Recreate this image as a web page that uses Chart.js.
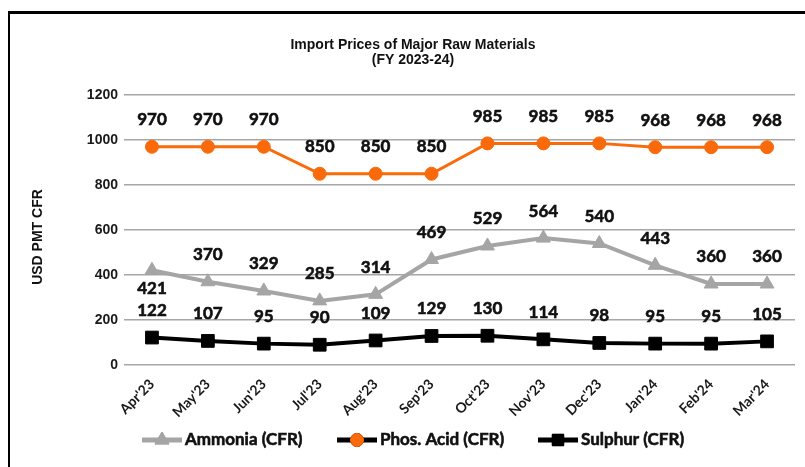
<!DOCTYPE html>
<html>
<head>
<meta charset="utf-8">
<script src="https://cdn.jsdelivr.net/npm/chart.js@4.4.1/dist/chart.umd.min.js"></script>
<style>
  html, body { margin: 0; padding: 0; background: #fff; }
  #chart { display: block; }
</style>
</head>
<body>
<canvas id="chart" width="805" height="467"></canvas>
<script>
// data
const months = ["Apr'23", "May'23", "Jun'23", "Jul'23", "Aug'23", "Sep'23",
                "Oct'23", "Nov'23", "Dec'23", "Jan'24", "Feb'24", "Mar'24"];
const ammonia = [421, 370, 329, 285, 314, 469, 529, 564, 540, 443, 360, 360];
const phosAcid = [970, 970, 970, 850, 850, 850, 985, 985, 985, 968, 968, 968];
const sulphur = [122, 107, 95, 90, 109, 129, 130, 114, 98, 95, 95, 105];
const yTicks = [0, 200, 400, 600, 800, 1000, 1200];

const ORANGE = '#fa6a0a';
const GREY = '#a5a5a5';

// heavier text: fill plus a thin stroke of the same colour
function boldText(ctx, txt, x, y) {
    ctx.fillText(txt, x, y);
    ctx.strokeText(txt, x, y);
}

// frame, titles, value labels and legend
let decor = {
    id: 'decor',
    beforeDraw(chart) {
        const ctx = chart.ctx;
        ctx.save();
        ctx.fillStyle = '#fff';
        ctx.fillRect(0, 0, chart.width, chart.height);
        ctx.fillStyle = '#000';
        ctx.fillRect(9, 11, chart.width - 9, 3);
        ctx.fillRect(8, 11, 2, chart.height - 11);

        ctx.fillStyle = '#111';
        ctx.textAlign = 'center';
        ctx.textBaseline = 'middle';
        ctx.font = 'bold 14px "Liberation Sans", Arial, sans-serif';
        ctx.fillText('Import Prices of Major Raw Materials', 413, 45);
        ctx.fillText('(FY 2023-24)', 413, 60);

        ctx.translate(38, 237);
        ctx.rotate(-Math.PI / 2);
        ctx.fillText('USD PMT CFR', 0, 0);
        ctx.restore();
    },
    afterDatasetsDraw(chart) {
        const ctx = chart.ctx;
        ctx.save();
        ctx.font = 'bold 17px Lato, "Open Sans", sans-serif';
        ctx.fillStyle = '#111';
        ctx.strokeStyle = '#111';
        ctx.lineWidth = 0.6;
        ctx.textAlign = 'center';
        ctx.textBaseline = 'middle';
        chart.data.datasets.forEach((ds, i) => {
            const meta = chart.getDatasetMeta(i);
            meta.data.forEach((pt, j) => {
                let below = (ds.labelBelow || []).includes(j);
                let dy = below ? 18 : -27;
                boldText(ctx, ds.data[j], pt.x, pt.y + dy);
            });
        });

        // legend: line with marker in the middle
        const items = [
            {x: 142, text: 'Ammonia (CFR)', line: GREY, mark: GREY, shape: 'triangle'},
            {x: 337, text: 'Phos. Acid (CFR)', line: '#000', mark: ORANGE, shape: 'circle'},
            {x: 538, text: 'Sulphur (CFR)', line: '#000', mark: '#000', shape: 'rect'},
        ];
        const ly = 440;
        ctx.textAlign = 'left';
        items.forEach(it => {
            ctx.strokeStyle = it.line;
            ctx.lineWidth = 5;
            ctx.beginPath();
            ctx.moveTo(it.x, ly);
            ctx.lineTo(it.x + 40, ly);
            ctx.stroke();
            ctx.lineWidth = 1;
            Chart.helpers.drawPoint(ctx, {
                pointStyle: it.shape, radius: it.shape == 'rect' ? 8 : (it.shape == 'circle' ? 6.5 : 8),
                borderWidth: 1, rotation: 0
            }, it.x + 20, ly);
            ctx.fillStyle = it.mark;
            ctx.strokeStyle = it.mark;
            ctx.fill();
            ctx.stroke();
            ctx.fillStyle = '#111';
            ctx.strokeStyle = '#111';
            ctx.lineWidth = 0.6;
            boldText(ctx, it.text, it.x + 43, ly);
        });
        ctx.restore();
    }
};

let ctx = document.getElementById('chart').getContext('2d');
let chart = new Chart(ctx, {
    type: 'line',
    data: {
        labels: months,
        datasets: [
            {
                label: 'Ammonia (CFR)', data: ammonia,
                borderColor: GREY, backgroundColor: GREY, borderWidth: 4,
                pointStyle: 'triangle', pointRadius: 8, pointBorderWidth: 1,
                labelBelow: [0]
            },
            {
                label: 'Phos. Acid (CFR)', data: phosAcid,
                borderColor: ORANGE, backgroundColor: ORANGE, borderWidth: 3,
                pointStyle: 'circle', pointRadius: 6.5, pointBorderWidth: 1
            },
            {
                label: 'Sulphur (CFR)', data: sulphur,
                borderColor: '#000', backgroundColor: '#000', borderWidth: 4,
                pointStyle: 'rect', pointRadius: 9, pointBorderWidth: 1
            }
        ]
    },
    options: {
        responsive: false,
        animation: false,
        devicePixelRatio: 1,
        layout: {padding: {top: 95, right: 7, bottom: 42, left: 0}},
        plugins: {
            legend: {display: false},
            tooltip: {enabled: false},
            title: {display: false}
        },
        scales: {
            x: {
                offset: true,
                grid: {display: false},
                border: {display: false},
                ticks: {
                    minRotation: 45, maxRotation: 45, padding: 3,
                    color: '#1a1a1a',
                    font: {family: 'Lato, "Open Sans", sans-serif', size: 14, weight: 'bold'}
                },
                afterFit: (scale) => { scale.height = 60; }
            },
            y: {
                min: 0, max: 1200,
                afterBuildTicks: (scale) => { scale.ticks = yTicks.map(v => ({value: v})); },
                grid: {color: '#a6a6a6', lineWidth: 1.5, tickLength: 0},
                border: {display: false},
                ticks: {
                    padding: 6, color: '#1a1a1a',
                    callback: (v) => String(v),
                    font: {family: '"Liberation Sans", Arial, sans-serif', size: 14, weight: 'bold'}
                },
                afterFit: (scale) => { scale.width = 124; }
            }
        }
    },
    plugins: [decor]
});
</script>
</body>
</html>
